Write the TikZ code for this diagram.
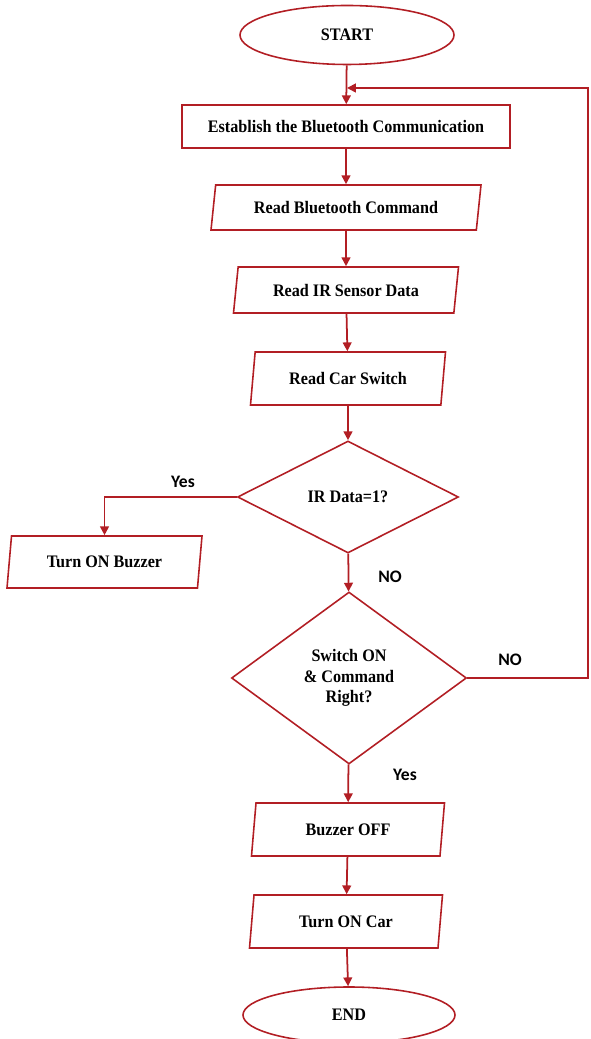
\documentclass[tikz,border=0pt]{standalone}
\usepackage{fontspec}
\setmainfont[FakeStretch=0.92]{Liberation Serif}
\newfontfamily\lblfont{Carlito}
\usetikzlibrary{shapes.geometric, arrows.meta}

\definecolor{flowred}{RGB}{178,30,36}

\tikzstyle{terminal}=[ellipse, draw=flowred, line width=0.9pt,
                      inner sep=0cm, font=\fontsize{10}{11}\selectfont\bfseries]
\tikzstyle{process}=[rectangle, draw=flowred, line width=0.9pt,
                     inner sep=0.1cm, font=\fontsize{10}{11}\selectfont\bfseries]
\tikzstyle{io}=[trapezium, trapezium left angle=75, trapezium right angle=105,
                trapezium stretches body, draw=flowred, line width=0.9pt,
                inner sep=0.05cm, font=\fontsize{10}{11}\selectfont\bfseries]
\tikzstyle{decision}=[diamond, draw=flowred, line width=0.9pt, aspect=1.5,
                      inner sep=0cm, align=center,
                      font=\fontsize{10}{11.5}\selectfont\bfseries]
\tikzstyle{answer}=[font=\lblfont\fontsize{10}{11}\selectfont\bfseries]
\tikzstyle{link}=[draw=flowred, line width=1pt,
                  -{Triangle[length=5pt, width=5pt]}]

\begin{document}
\begin{tikzpicture}

\useasboundingbox (0, 0) rectangle (11.8, 20.78);

%%%%%%%%%%%%%%%%%%%%%%%%%%%%%%
% nodes

\node (start) at (6.94, 20.08) [terminal, minimum width=4.28cm, minimum height=1.18cm] {START};
\node (bt_con) at (6.92, 18.25) [process, minimum width=6.56cm, minimum height=0.86cm] {Establish the Bluetooth Communication};

\node (bt_cmd) at (6.92, 16.63) [io, minimum width=5.4cm, minimum height=0.9cm] {Read Bluetooth Command};
\node (ir_data) at (6.92, 14.98) [io, minimum width=4.5cm, minimum height=0.92cm] {Read IR Sensor Data};
\node (car_sw) at (6.96, 13.21) [io, minimum width=3.9cm, minimum height=1.06cm] {Read Car Switch};

% decisions
\node (ir_chk) at (6.96, 10.84) [decision, minimum width=4.42cm, minimum height=2.24cm] {IR Data=1?};
\node (buzz_on) at (2.09, 9.54) [io, minimum width=3.9cm, minimum height=1.04cm] {Turn ON Buzzer};

\node (sw_chk) at (6.98, 7.22) [decision, minimum width=4.7cm, minimum height=3.44cm] {Switch ON\\\& Command\\Right?};

\node (buzz_off) at (6.96, 4.19) [io, minimum width=3.86cm, minimum height=1.06cm] {Buzzer OFF};
\node (car_on) at (6.92, 2.35) [io, minimum width=3.86cm, minimum height=1.06cm] {Turn ON Car};
\node (end) at (6.98, 0.48) [terminal, minimum width=4.24cm, minimum height=1.12cm] {END};

% loop back points
\coordinate (back) at (6.94, 19.02);
\coordinate (back_r) at (11.76, 19.02);

%%%%%%%%%%%%%%%%%%%%%%%%%%%%%%
% labels

\node (yes_ir) at (3.66, 11.14) [answer] {Yes};
\node (no_ir) at (7.8, 9.24) [answer] {NO};
\node (no_sw) at (10.2, 7.58) [answer] {NO};
\node (yes_sw) at (8.1, 5.28) [answer] {Yes};

%%%%%%%%%%%%%%%%%%%%%%%%%%%%%%
% links

\draw [link] (start) to (bt_con);
\draw [link] (bt_con) to (bt_cmd);
\draw [link] (bt_cmd) to (ir_data);
\draw [link] (ir_data) to (car_sw);
\draw [link] (car_sw) to (ir_chk);

\draw [link] (ir_chk.west) -| (buzz_on.north);
\draw [link] (ir_chk) to (sw_chk);

\draw [link] (sw_chk.east) -| (back_r) -- (back);
\draw [link] (sw_chk) to (buzz_off);
\draw [link] (buzz_off) to (car_on);
\draw [link] (car_on) to (end);

\end{tikzpicture}
\end{document}
